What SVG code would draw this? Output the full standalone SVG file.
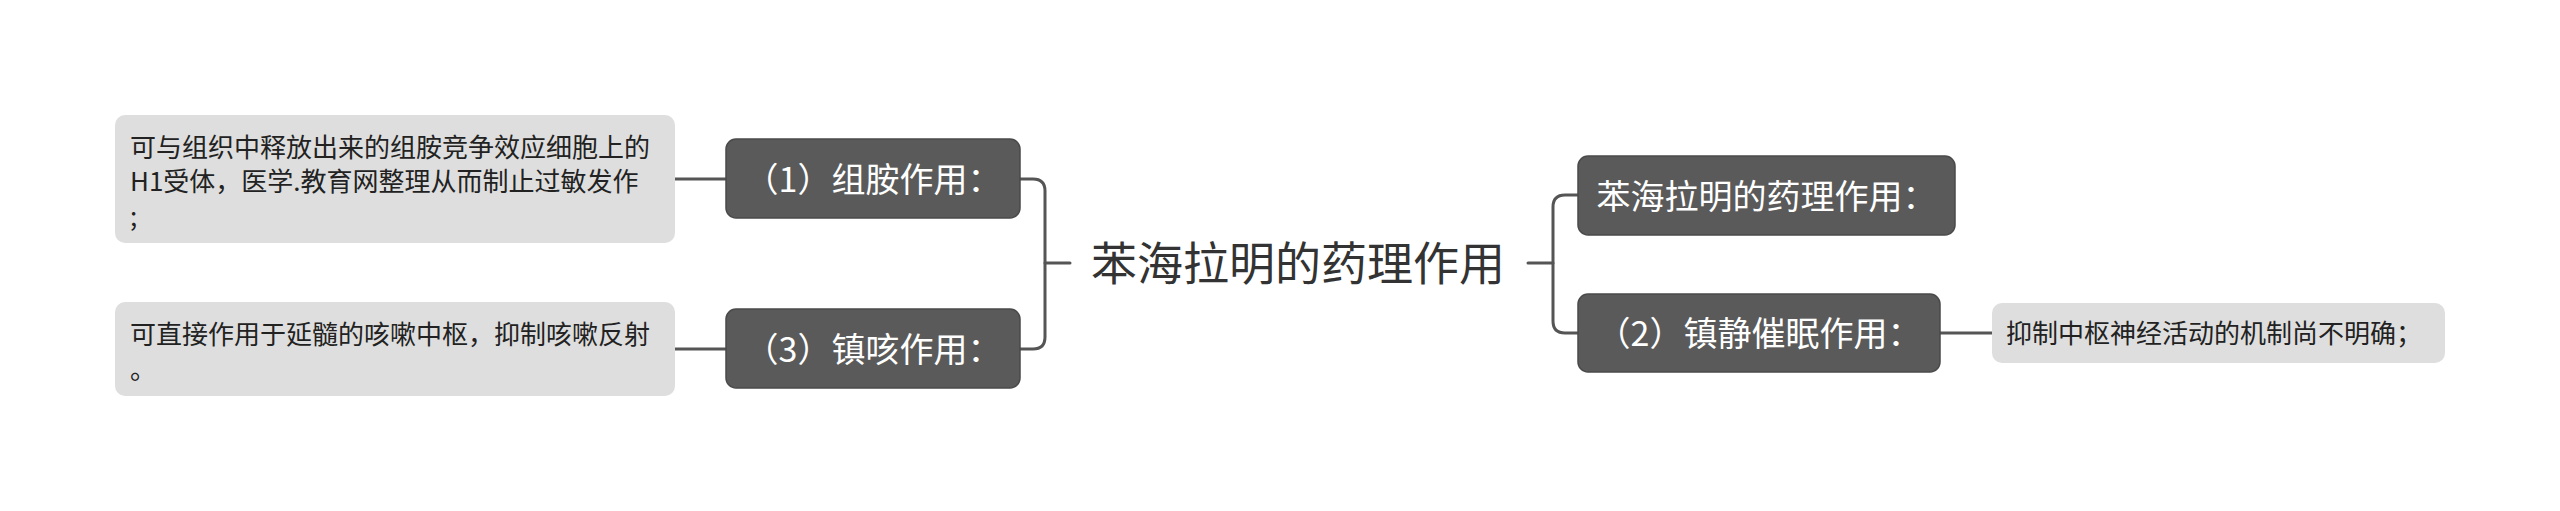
<svg xmlns="http://www.w3.org/2000/svg" width="2560" height="511" viewBox="0 0 2560 511">
<style>
.conn{fill:none;stroke:#555555;stroke-width:3;stroke-linecap:round}
.main rect{fill:#5a5a5a;stroke:#4a4a4a;stroke-width:1.5}
.main text{fill:#ffffff;font-family:"Noto Sans CJK SC","Noto Sans",sans-serif;font-size:34px;text-anchor:middle}
.leaf rect{fill:#dedede}
.leaf text{fill:#222222;font-family:"Noto Sans CJK SC","Noto Sans",sans-serif;font-size:26px}
.root text{fill:#333333;font-family:"Noto Sans CJK SC","Noto Sans",sans-serif;font-size:46px;text-anchor:middle}
</style>
<rect width="2560" height="511" fill="#ffffff"/>
<g id="connectors">
<path class="conn" d="M675 179 H726"/>
<path class="conn" d="M675 349 H726"/>
<path class="conn" d="M1020 179 H1033 Q1045 179 1045 191 V337 Q1045 349 1033 349 H1020"/>
<path class="conn" d="M1045 263 H1070"/>
<path class="conn" d="M1528 263 H1553"/>
<path class="conn" d="M1578 195 H1565 Q1553 195 1553 207 V321 Q1553 333 1565 333 H1578"/>
<path class="conn" d="M1940 333 H1992"/>
</g>
<g id="root" class="root">
<text x="1298" y="280">苯海拉明的药理作用</text>
</g>
<g id="node1" class="main">
<rect x="726" y="139" width="294" height="79" rx="10"/>
<text x="873" y="192">（1）组胺作用：</text>
</g>
<g id="node3" class="main">
<rect x="726" y="309" width="294" height="79" rx="10"/>
<text x="873" y="362">（3）镇咳作用：</text>
</g>
<g id="nodeA" class="main">
<rect x="1578" y="156" width="377" height="79" rx="10"/>
<text x="1766.5" y="209">苯海拉明的药理作用：</text>
</g>
<g id="nodeB" class="main">
<rect x="1578" y="294" width="362" height="78" rx="10"/>
<text x="1759" y="346">（2）镇静催眠作用：</text>
</g>
<g id="leaf1" class="leaf">
<rect x="115" y="115" width="560" height="128" rx="10"/>
<text x="130" y="157">可与组织中释放出来的组胺竞争效应细胞上的</text>
<text x="130" y="191">H1受体，医学.教育网整理从而制止过敏发作</text>
<text x="130" y="226">;</text>
</g>
<g id="leaf3" class="leaf">
<rect x="115" y="302" width="560" height="94" rx="10"/>
<text x="130" y="344">可直接作用于延髓的咳嗽中枢，抑制咳嗽反射</text>
<text x="130" y="379">。</text>
</g>
<g id="leaf2" class="leaf">
<rect x="1992" y="303" width="453" height="60" rx="10"/>
<text x="2006" y="343">抑制中枢神经活动的机制尚不明确；</text>
</g>
</svg>
